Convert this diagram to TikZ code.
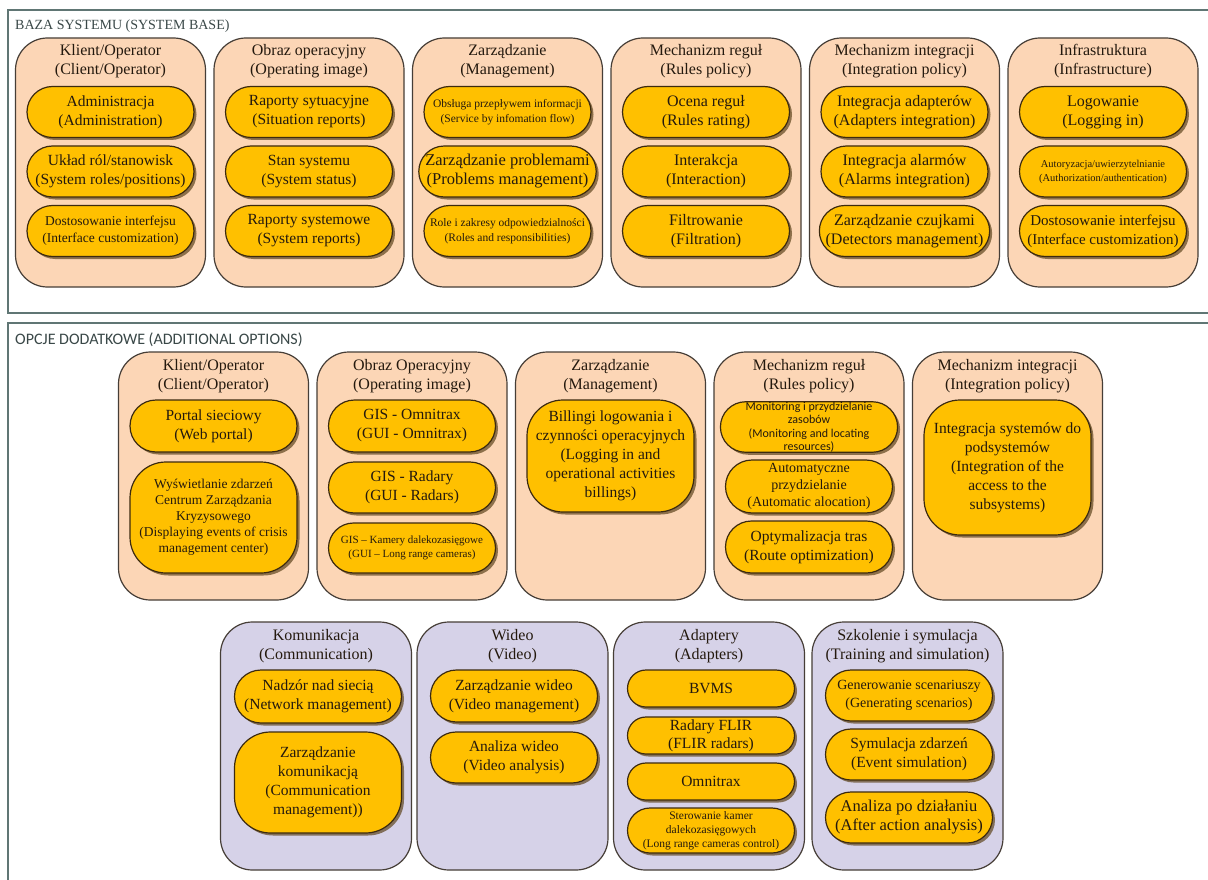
\documentclass[tikz,border=0pt]{standalone}
\usepackage{fontspec}
\setmainfont{Liberation Serif}
\newfontfamily\calibri{Carlito}
\usetikzlibrary{shapes.misc,shadows}
\definecolor{peach}{RGB}{252,214,182}
\definecolor{lilac}{RGB}{214,210,232}
\definecolor{gold}{RGB}{255,192,0}
\definecolor{pillline}{RGB}{60,42,15}
\definecolor{grpline}{RGB}{70,62,55}
\definecolor{ink}{RGB}{36,25,14}
\definecolor{shade}{RGB}{95,70,30}
\definecolor{framecol}{RGB}{96,118,116}
\definecolor{titlecol}{RGB}{58,72,72}
\tikzset{
  frame/.style={draw=framecol, line width=1.6pt},
  grp/.style={draw=grpline, line width=1.2pt, rounded corners=32pt,
    minimum width=190pt, minimum height=249pt, inner sep=0pt},
  grpA/.style={grp, fill=peach},
  grpB/.style={grp, fill=lilac},
  head/.style={align=center, text=ink, inner sep=0pt, font=\rmfamily\fontsize{16}{19}\selectfont},
  fs/.style 2 args={font=\rmfamily\fontsize{#1}{#2}\selectfont},
  pillbase/.style={draw=pillline, fill=gold, line width=1.2pt, text=ink,
    align=center, inner sep=0pt, minimum width=167pt, fs={15.5}{19},
    drop shadow={shadow xshift=2.5pt, shadow yshift=-2.5pt, fill=shade, opacity=0.7}},
  pill/.style={pillbase, rounded rectangle},
  blob/.style={pillbase, rectangle, rounded corners=36pt},
  title/.style={anchor=west, text=titlecol, inner sep=0pt}
}
\begin{document}
\begin{tikzpicture}[x=1pt,y=-1pt]
\useasboundingbox (0,0) rectangle (1208,880);
\fill[white] (0,0) rectangle (1208,880);

% section frames
\draw[frame] (8,10) rectangle (1225,313);
\draw[frame] (8,323) rectangle (1225,895);
\node[title, font=\rmfamily\fontsize{14}{17}\selectfont] (tbase) at (15,26) {BAZA SYSTEMU (SYSTEM BASE)};
\node[title, font=\calibri\fontsize{16}{18}\selectfont] (topts) at (15,340) {OPCJE DODATKOWE (ADDITIONAL OPTIONS)};

% ---------- system base ----------
\node[grpA] (t1) at (110.5,162.5) {};
\node[grpA] (t2) at (309,162.5) {};
\node[grpA] (t3) at (507.5,162.5) {};
\node[grpA] (t4) at (706,162.5) {};
\node[grpA] (t5) at (904.5,162.5) {};
\node[grpA] (t6) at (1103,162.5) {};

\node[head] (t1h) at (110.5,61.5) {Klient/Operator\\(Client/Operator)};
\node[head] (t2h) at (309,61.5) {Obraz operacyjny\\(Operating image)};
\node[head] (t3h) at (507.5,61.5) {Zarządzanie\\(Management)};
\node[head] (t4h) at (706,61.5) {Mechanizm reguł\\(Rules policy)};
\node[head] (t5h) at (904.5,61.5) {Mechanizm integracji\\(Integration policy)};
\node[head] (t6h) at (1103,61.5) {Infrastruktura\\(Infrastructure)};

\node[pill, minimum height=51pt] (t1a) at (110.5,112) {Administracja\\(Administration)};
\node[pill, minimum height=51pt] (t1b) at (110.5,171.5) {Układ ról/stanowisk\\(System roles/positions)};
\node[pill, minimum height=51pt, fs={13.5}{17}] (t1c) at (110.5,231) {Dostosowanie interfejsu\\(Interface customization)};

\node[pill, minimum height=51pt] (t2a) at (309,112) {Raporty sytuacyjne\\(Situation reports)};
\node[pill, minimum height=51pt] (t2b) at (309,171.5) {Stan systemu\\(System status)};
\node[pill, minimum height=51pt] (t2c) at (309,231) {Raporty systemowe\\(System reports)};

\node[pill, minimum height=51pt, fs={11.5}{15}] (t3a) at (507.5,112) {Obsługa przepływem informacji\\(Service by infomation flow)};
\node[pill, minimum height=51pt, fs={16.5}{19}] (t3b) at (507.5,171.5) {Zarządzanie problemami\\(Problems management)};
\node[pill, minimum height=51pt, fs={11.5}{15}] (t3c) at (507.5,231) {Role i zakresy odpowiedzialności\\(Roles and responsibilities)};

\node[pill, minimum height=51pt, fs={16}{19}] (t4a) at (706,112) {Ocena reguł\\(Rules rating)};
\node[pill, minimum height=51pt, fs={16}{19}] (t4b) at (706,171.5) {Interakcja\\(Interaction)};
\node[pill, minimum height=51pt, fs={16}{19}] (t4c) at (706,231) {Filtrowanie\\(Filtration)};

\node[pill, minimum height=51pt, fs={16}{19}] (t5a) at (904.5,112) {Integracja adapterów\\(Adapters integration)};
\node[pill, minimum height=51pt, fs={16}{19}] (t5b) at (904.5,171.5) {Integracja alarmów\\(Alarms integration)};
\node[pill, minimum height=51pt, fs={16}{19}] (t5c) at (904.5,231) {Zarządzanie czujkami\\(Detectors management)};

\node[pill, minimum height=51pt, fs={16}{19}] (t6a) at (1103,112) {Logowanie\\(Logging in)};
\node[pill, minimum height=51pt, fs={10.5}{14}] (t6b) at (1103,171.5) {Autoryzacja/uwierzytelnianie\\(Authorization/authentication)};
\node[pill, minimum height=51pt, fs={15}{19}] (t6c) at (1103,231) {Dostosowanie interfejsu\\(Interface customization)};

% ---------- additional options, first row ----------
\node[grpA, minimum height=248pt] (m1) at (213.5,476) {};
\node[grpA, minimum height=248pt] (m2) at (412,476) {};
\node[grpA, minimum height=248pt] (m3) at (610.5,476) {};
\node[grpA, minimum height=248pt] (m4) at (809,476) {};
\node[grpA, minimum height=248pt] (m5) at (1007.5,476) {};

\node[head] (m1h) at (213.5,376) {Klient/Operator\\(Client/Operator)};
\node[head] (m2h) at (412,376) {Obraz Operacyjny\\(Operating image)};
\node[head] (m3h) at (610.5,376) {Zarządzanie\\(Management)};
\node[head] (m4h) at (809,376) {Mechanizm reguł\\(Rules policy)};
\node[head] (m5h) at (1007.5,376) {Mechanizm integracji\\(Integration policy)};

\node[pill, minimum height=52pt] (m1a) at (213.5,426) {Portal sieciowy\\(Web portal)};
\node[blob, minimum height=111pt, fs={13.5}{16}] (m1b) at (213.5,517.5) {Wyświetlanie zdarzeń\\Centrum Zarządzania\\Kryzysowego\\(Displaying events of crisis\\management center)};

\node[pill, minimum height=52pt] (m2a) at (412,426) {GIS - Omnitrax\\(GUI - Omnitrax)};
\node[pill, minimum height=51pt] (m2b) at (412,487.5) {GIS - Radary\\(GUI - Radars)};
\node[pill, minimum height=50pt, fs={11}{14}] (m2c) at (412,548) {GIS – Kamery dalekozasięgowe\\(GUI – Long range cameras)};

\node[blob, minimum height=112pt] (m3a) at (610.5,456) {Billingi logowania i\\czynności operacyjnych\\(Logging in and\\operational activities\\billings)};

\node[pill, minimum height=50pt, font=\calibri\fontsize{12}{13.5}\selectfont] (m4a) at (809,427) {Monitoring i przydzielanie\\zasobów\\(Monitoring and locating\\resources)};
\node[pill, minimum height=53pt, fs={14}{17}] (m4b) at (809,486.5) {Automatyczne\\przydzielanie\\(Automatic alocation)};
\node[pill, minimum height=52pt, fs={15.5}{19}] (m4c) at (809,547) {Optymalizacja tras\\(Route optimization)};

\node[blob, minimum height=135pt] (m5a) at (1007.5,467.5) {Integracja systemów do\\podsystemów\\(Integration of the\\access to the\\subsystems)};

% ---------- additional options, second row ----------
\node[grpB, minimum width=191pt, minimum height=248pt] (b1) at (316,746) {};
\node[grpB, minimum width=191pt, minimum height=248pt] (b2) at (512.5,746) {};
\node[grpB, minimum width=191pt, minimum height=248pt] (b3) at (709,746) {};
\node[grpB, minimum width=191pt, minimum height=248pt] (b4) at (907.5,746) {};

\node[head] (b1h) at (316,646) {Komunikacja\\(Communication)};
\node[head] (b2h) at (512.5,646) {Wideo\\(Video)};
\node[head] (b3h) at (709,646) {Adaptery\\(Adapters)};
\node[head] (b4h) at (907.5,646) {Szkolenie i symulacja\\(Training and simulation)};

\node[pill, minimum height=53pt] (b1a) at (318,696.5) {Nadzór nad siecią\\(Network management)};
\node[blob, minimum height=101pt] (b1b) at (318,782.5) {Zarządzanie\\komunikacją\\(Communication\\management))};

\node[pill, minimum height=52pt] (b2a) at (514,696) {Zarządzanie wideo\\(Video management)};
\node[pill, minimum height=51pt] (b2b) at (514,757.5) {Analiza wideo\\(Video analysis)};

\node[pill, minimum height=37pt] (b3a) at (711,688.5) {BVMS};
\node[pill, minimum height=37pt, fs={15.5}{18}] (b3b) at (711,735.5) {Radary FLIR\\(FLIR radars)};
\node[pill, minimum height=37pt] (b3c) at (711,781.5) {Omnitrax};
\node[pill, minimum height=45pt, fs={11.5}{14}] (b3d) at (711,830.5) {Sterowanie kamer\\dalekozasięgowych\\(Long range cameras control)};

\node[pill, minimum height=51pt, fs={14}{18}] (b4a) at (909,695.5) {Generowanie scenariuszy\\(Generating scenarios)};
\node[pill, minimum height=51pt, fs={15.5}{19}] (b4b) at (909,754.5) {Symulacja zdarzeń\\(Event simulation)};
\node[pill, minimum height=51pt, fs={16.5}{19}] (b4c) at (909,817.5) {Analiza po działaniu\\(After action analysis)};
\end{tikzpicture}
\end{document}
